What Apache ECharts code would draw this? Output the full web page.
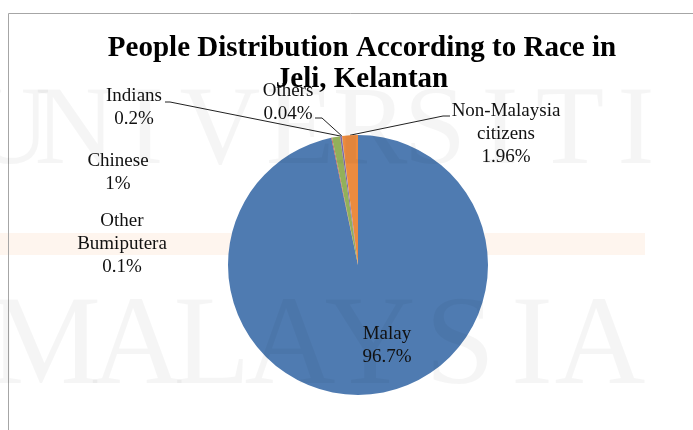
<!DOCTYPE html>
<html><head><meta charset="utf-8">
<script src="https://cdn.jsdelivr.net/npm/echarts@6/dist/echarts.min.js"></script>
<style>html,body{margin:0;padding:0;background:#fff}#c{width:693px;height:430px}</style>
</head><body><div id="c"></div>
<script>
// ---- data ----
const categories = ['Malay', 'Other Bumiputera', 'Chinese', 'Indians', 'Others', 'Non-Malaysia citizens'];
const shares = [96.7, 0.1, 1, 0.2, 0.04, 1.96];
const labelNames = ['Malay', 'Other\nBumiputera', 'Chinese', 'Indians', 'Others', 'Non-Malaysia\ncitizens'];
const titleText = 'People Distribution According to Race in\nJeli, Kelantan';

// ---- styling / layout ----
const sliceColors = ['#4F7BB1', '#C0504D', '#92B05A', '#8064A2', '#4BACC6', '#EC8B3F'];
const labelPos = [[387, 346], [122, 244], [118, 173], [134, 108], [288, 103], [506, 134]];
const leaderEnds = [null, null, null, [[170, 102], [165, 102]], [[322, 118], [315, 118]], [[443, 116], [450, 116]]];
const wmTop = [['U', 10], ['N', 75], ['I', 145], ['V', 220], ['E', 300], ['R', 370], ['S', 435], ['I', 500], ['T', 570], ['I', 636]];
const wmBottom = [['M', 45], ['A', 137], ['L', 212], ['A', 290], ['Y', 370], ['S', 460], ['I', 532], ['A', 600]];
const serif = '"Liberation Serif", "Times New Roman", serif';

const chart = echarts.init(document.getElementById('c'), null, {renderer: 'canvas'});

const graphics = [
  {type: 'rect', z: 0, silent: true, shape: {x: 0, y: 233, width: 645, height: 22}, style: {fill: '#fef5ee'}},
  {type: 'line', z: 50, silent: true, shape: {x1: 8.5, y1: 13.5, x2: 693, y2: 13.5}, style: {stroke: '#a6a6a6', lineWidth: 1}},
  {type: 'line', z: 50, silent: true, shape: {x1: 8.5, y1: 13.5, x2: 8.5, y2: 430}, style: {stroke: '#a6a6a6', lineWidth: 1}}
];
wmTop.forEach(([ch, x]) => graphics.push({
  type: 'text', z: 100, silent: true, x: x, y: 134,
  style: {text: ch, fontSize: 112, fontFamily: serif, fill: 'rgba(0,0,0,0.04)', align: 'center', verticalAlign: 'middle'}
}));
wmBottom.forEach(([ch, x]) => graphics.push({
  type: 'text', z: 100, silent: true, x: x, y: 350,
  style: {text: ch, fontSize: 126, fontFamily: serif, fill: 'rgba(0,0,0,0.04)', align: 'center', verticalAlign: 'middle'}
}));

const pieData = categories.map((name, i) => ({
  name: name,
  value: shares[i],
  itemStyle: {color: sliceColors[i]},
  labelLine: {show: leaderEnds[i] !== null}
}));

chart.setOption({
  animation: false,
  backgroundColor: '#fff',
  title: {
    text: titleText,
    left: 357, top: 28, textAlign: 'center',
    textStyle: {fontFamily: serif, fontWeight: 'bold', fontSize: 29, lineHeight: 31, color: '#000'}
  },
  graphic: graphics,
  series: [{
    type: 'pie',
    silent: true,
    center: [358, 265],
    radius: 130,
    startAngle: 90,
    clockwise: true,
    avoidLabelOverlap: false,
    minAngle: 0,
    data: pieData,
    label: {
      show: true,
      position: 'outside',
      fontFamily: serif,
      fontSize: 19,
      lineHeight: 23,
      color: '#111',
      formatter: p => labelNames[p.dataIndex] + '\n' + p.value + '%'
    },
    labelLine: {show: true, length: 10, length2: 10, lineStyle: {color: '#222', width: 1}},
    labelLayout: function (params) {
      const i = params.dataIndex;
      const res = {x: labelPos[i][0], y: labelPos[i][1], align: 'center', verticalAlign: 'middle'};
      if (leaderEnds[i] && params.labelLinePoints) {
        res.labelLinePoints = [params.labelLinePoints[0], leaderEnds[i][0], leaderEnds[i][1]];
      }
      return res;
    }
  }]
});
</script></body></html>
